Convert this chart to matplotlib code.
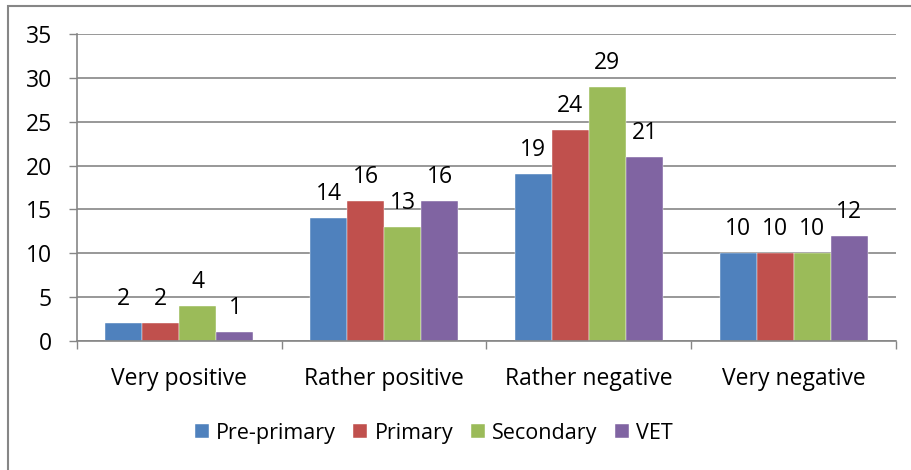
import matplotlib
matplotlib.use("Agg")
import matplotlib.pyplot as plt
from matplotlib.patches import Rectangle
import numpy as np

categories = ["Very positive", "Rather positive", "Rather negative", "Very negative"]
series_names = ["Pre-primary", "Primary", "Secondary", "VET"]
pre_primary = [2, 14, 19, 10]
primary = [2, 16, 24, 10]
secondary = [4, 13, 29, 10]
vet = [1, 16, 21, 12]
colors = ["#4F81BD", "#C0504D", "#9BBB59", "#8064A2"]
yticks = [0, 5, 10, 15, 20, 25, 30, 35]

plt.rcParams['font.family'] = ['Open Sans', 'DejaVu Sans']
gray = "#868686"
fs = 16.5

fig = plt.figure(figsize=(9.12, 4.70), dpi=100)
ax = fig.add_axes([77 / 912, 1 - 341 / 470, (896 - 77) / 912, (341 - 34) / 470])

x = np.arange(len(categories))
w = 0.181
all_series = [pre_primary, primary, secondary, vet]
for i, (name, vals) in enumerate(zip(series_names, all_series)):
    pos = x + (i - 1.5) * w
    bars = ax.bar(pos, vals, w, color=colors[i], label=name, zorder=2,
                  edgecolor="white", linewidth=0.3)
    for px, v in zip(pos, vals):
        ax.annotate(str(v), (px, v), xytext=(0, 13), textcoords="offset points",
                    ha="center", va="baseline", fontsize=fs)

ax.set_xlim(-0.5, len(categories) - 0.5)
ax.set_ylim(0, 35)
ax.set_yticks(yticks)
ax.tick_params(axis="y", length=6, color=gray, width=1, pad=12, labelsize=fs)
ax.yaxis.grid(True, color=gray, linewidth=1.2, zorder=0)
ax.set_axisbelow(True)

ax.set_xticks(x)
ax.set_xticklabels(categories, fontsize=fs)
ax.set_xticks(np.arange(-0.5, len(categories)), minor=True)
ax.tick_params(axis="x", which="major", length=0, pad=19)
ax.tick_params(axis="x", which="minor", length=6, color=gray, width=1)

for s in ["top", "right"]:
    ax.spines[s].set_visible(False)
for s in ["left", "bottom"]:
    ax.spines[s].set_color(gray)
    ax.spines[s].set_linewidth(1.2)

ax.legend(loc="center", bbox_to_anchor=(434 / 912, 1 - 433 / 470),
          bbox_transform=fig.transFigure, ncol=4, frameon=False, fontsize=15.5,
          handlelength=0.65, handleheight=0.65, handletextpad=0.35, columnspacing=0.8)

top = 1 - 5.5 / 470
fig.add_artist(Rectangle((8.5 / 912, -0.1), 1.2, top + 0.1, transform=fig.transFigure,
                         fill=False, edgecolor=gray, linewidth=1.5))

fig.savefig("out.png", dpi=100)
